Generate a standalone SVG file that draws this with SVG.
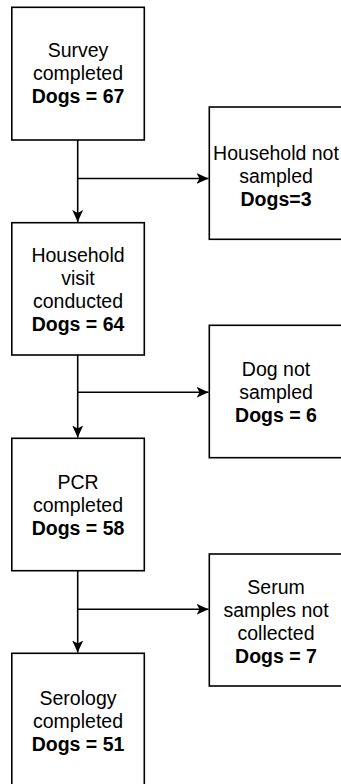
<svg xmlns="http://www.w3.org/2000/svg" width="341" height="784" viewBox="0 0 341 784">
<style>
.box{fill:#fff;stroke:#000;stroke-width:1.6}
.t{font-family:"Liberation Sans",Arial,Helvetica,sans-serif;font-size:19.5px;fill:#000;text-anchor:middle}
.b{font-weight:bold}
.c{fill:none;stroke:#000;stroke-width:1.6}
</style>
<defs>
<marker id="arr" markerUnits="userSpaceOnUse" viewBox="0 0 12 11" refX="12" refY="5.5" markerWidth="12" markerHeight="11" orient="auto">
<path d="M0,0 L12,5.5 L0,11 L3,5.5 Z" fill="#000"/>
</marker>
</defs>
<rect width="341" height="784" fill="#fff"/>
<g id="connectors">
<path class="c" d="M77.7,140 L77.7,221.9" marker-end="url(#arr)"/>
<path class="c" d="M77.7,178.5 L208.5,178.5" marker-end="url(#arr)"/>
<path class="c" d="M77.7,355 L77.7,437.5" marker-end="url(#arr)"/>
<path class="c" d="M77.7,392.3 L208.5,392.3" marker-end="url(#arr)"/>
<path class="c" d="M77.7,570.7 L77.7,652.5" marker-end="url(#arr)"/>
<path class="c" d="M77.7,609.3 L208.5,609.3" marker-end="url(#arr)"/>
</g>
<g id="survey">
<rect class="box" x="11.8" y="7.3" width="132.5" height="132.7"/>
<text class="t" x="78" y="57">Survey</text>
<text class="t" x="78" y="80">completed</text>
<text class="t b" x="78" y="103">Dogs = 67</text>
</g>
<g id="household-not-sampled">
<rect class="box" x="209.3" y="107" width="133" height="132.3"/>
<text class="t" x="276" y="159.5">Household not</text>
<text class="t" x="276" y="182.5">sampled</text>
<text class="t b" x="276" y="205.5">Dogs=3</text>
</g>
<g id="household-visit">
<rect class="box" x="11.8" y="222.7" width="132.5" height="132.3"/>
<text class="t" x="78" y="262">Household</text>
<text class="t" x="78" y="285">visit</text>
<text class="t" x="78" y="308">conducted</text>
<text class="t b" x="78" y="331">Dogs = 64</text>
</g>
<g id="dog-not-sampled">
<rect class="box" x="209.3" y="325.3" width="133" height="132.4"/>
<text class="t" x="276" y="375.5">Dog not</text>
<text class="t" x="276" y="398.5">sampled</text>
<text class="t b" x="276" y="421.5">Dogs = 6</text>
</g>
<g id="pcr">
<rect class="box" x="11.8" y="438.3" width="132.5" height="132.4"/>
<text class="t" x="78" y="488.5">PCR</text>
<text class="t" x="78" y="511.5">completed</text>
<text class="t b" x="78" y="534.5">Dogs = 58</text>
</g>
<g id="serum-not-collected">
<rect class="box" x="209.3" y="554" width="133" height="132"/>
<text class="t" x="276" y="593.5">Serum</text>
<text class="t" x="276" y="616.5">samples not</text>
<text class="t" x="276" y="639.5">collected</text>
<text class="t b" x="276" y="662.5">Dogs = 7</text>
</g>
<g id="serology">
<rect class="box" x="11.8" y="653.3" width="132.5" height="135"/>
<text class="t" x="78" y="705">Serology</text>
<text class="t" x="78" y="728">completed</text>
<text class="t b" x="78" y="751">Dogs = 51</text>
</g>
</svg>
